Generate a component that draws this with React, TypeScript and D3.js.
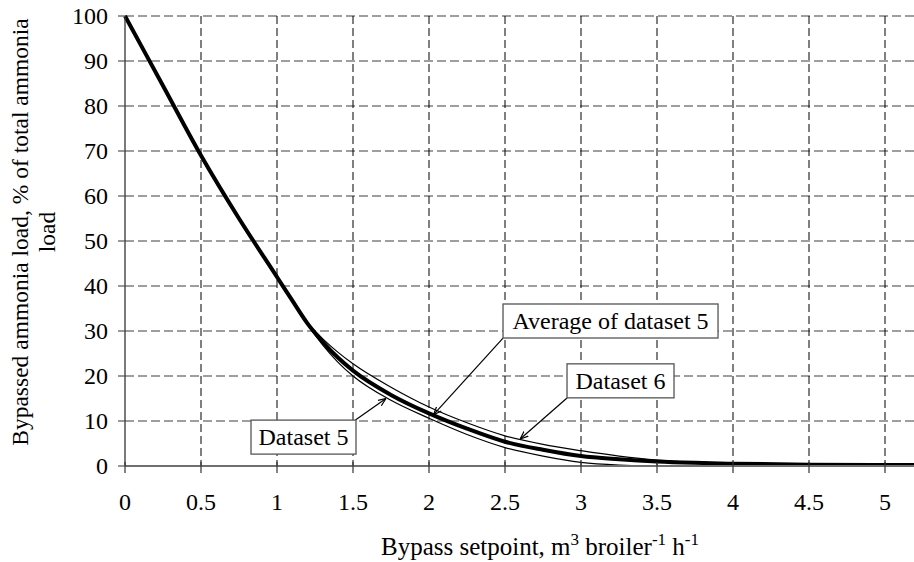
import React from "react";
import * as d3 from "d3";

const xTicks = [0, 0.5, 1, 1.5, 2, 2.5, 3, 3.5, 4, 4.5, 5];
const xTickLabels = ["0", "0.5", "1", "1.5", "2", "2.5", "3", "3.5", "4", "4.5", "5"];
const yTicks = [0, 10, 20, 30, 40, 50, 60, 70, 80, 90, 100];

const avgX = [0, 0.25, 0.5, 0.75, 1, 1.1, 1.2, 1.3, 1.4, 1.5, 1.75, 2, 2.25, 2.5, 2.75, 3, 3.25, 3.5, 3.75, 4, 4.5, 5.2];
const avgY = [100, 84.5, 69, 55, 42, 36.8, 31.7, 27.6, 24.1, 21.2, 15.8, 11.7, 8.3, 5.4, 3.6, 2.2, 1.5, 1.0, 0.7, 0.5, 0.3, 0.2];

const ds5X = [0, 0.25, 0.5, 0.75, 1, 1.1, 1.2, 1.3, 1.4, 1.5, 1.75, 2, 2.25, 2.5, 2.75, 3, 3.25, 3.5, 4, 5.2];
const ds5Y = [100, 84.5, 69, 55, 42, 36.8, 31.5, 26.9, 23.1, 20, 14.6, 10.6, 7, 4.1, 2.2, 0.8, 0.2, 0, 0, 0];

const ds6X = [0, 0.25, 0.5, 0.75, 1, 1.1, 1.2, 1.3, 1.4, 1.5, 1.75, 2, 2.25, 2.5, 2.75, 3, 3.25, 3.5, 3.75, 4, 4.5, 5.2];
const ds6Y = [100, 84.5, 69, 55, 42, 36.8, 31.9, 28.3, 25.3, 22.7, 17.5, 13.1, 9.6, 6.7, 4.8, 3.4, 2.2, 1.3, 0.8, 0.5, 0.3, 0.2];

// annotations: label, box left/top (data), arrow start (data), arrow tip (data)
const annLabels = ["Average of dataset 5", "Dataset 6", "Dataset 5"];
const annBoxX = [2.487, 2.908, 0.829];
const annBoxY = [36, 22.7, 10.2];
const annFromX = [2.487, 2.908, 1.516];
const annFromY = [28.4, 15.1, 10.2];
const annToX = [2.03, 2.6, 1.717];
const annToY = [11.4, 6.0, 15.0];

const FONT = "'Liberation Serif', 'Times New Roman', serif";

export default function App() {
  const W = 914;
  const H = 562;
  const x = d3.scaleLinear().domain([0, 5.2]).range([125, 915.4]);
  const y = d3.scaleLinear().domain([0, 100]).range([466, 16]);

  const line = d3
    .line<[number, number]>()
    .x((d) => x(d[0]))
    .y((d) => y(d[1]))
    .curve(d3.curveMonotoneX);

  const pts = (xs: number[], ys: number[]) => xs.map((v, i) => [v, ys[i]] as [number, number]);

  const boxW = [215, 107, 105];
  const boxH = 34;
  const ts = { fontFamily: FONT };

  return (
    <svg width={W} height={H} style={{ position: "absolute", left: 0, top: 0, background: "#fff" }}>
      <defs>
        <marker id="arr" viewBox="0 0 10 10" refX="10" refY="5" markerWidth="8" markerHeight="8" orient="auto-start-reverse" markerUnits="userSpaceOnUse">
          <path d="M0,1 L10,5 L0,9" fill="none" stroke="#000" strokeWidth={1.5} />
        </marker>
      </defs>
      <rect x={0} y={0} width={W} height={H} fill="#fff" />
      {yTicks.filter((t) => t > 0).map((t) => (
        <line key={"h" + t} x1={x(0)} x2={W} y1={y(t)} y2={y(t)} stroke="#7f7f7f" strokeWidth={1.3} strokeDasharray="9,4" />
      ))}
      {xTicks.filter((t) => t > 0).map((t) => (
        <line key={"v" + t} x1={x(t)} x2={x(t)} y1={y(100)} y2={y(0)} stroke="#000" strokeWidth={1} strokeDasharray="8,4" />
      ))}
      <path d={line(pts(ds5X, ds5Y)) || ""} fill="none" stroke="#000" strokeWidth={1.2} />
      <path d={line(pts(ds6X, ds6Y)) || ""} fill="none" stroke="#000" strokeWidth={1.2} />
      <path d={line(pts(avgX, avgY)) || ""} fill="none" stroke="#000" strokeWidth={4} />
      <line x1={x(0)} x2={W} y1={y(0)} y2={y(0)} stroke="#6f6f6f" strokeWidth={2} />
      <line x1={x(0)} x2={x(0)} y1={y(0)} y2={y(100)} stroke="#333" strokeWidth={1.3} />
      {xTicks.map((t) => (
        <line key={"xt" + t} x1={x(t)} x2={x(t)} y1={y(0) - 4} y2={y(0) + 7} stroke="#333" strokeWidth={1.2} />
      ))}
      {yTicks.map((t) => (
        <line key={"yt" + t} x1={x(0) - 7} x2={x(0)} y1={y(t)} y2={y(t)} stroke="#555" strokeWidth={1.2} />
      ))}
      {xTicks.map((t, i) => (
        <text key={"xl" + t} x={x(t)} y={510} textAnchor="middle" fontSize={24} fill="#000" style={ts}>
          {xTickLabels[i]}
        </text>
      ))}
      {yTicks.map((t) => (
        <text key={"yl" + t} x={108} y={y(t)} dy="0.35em" textAnchor="end" fontSize={24} fill="#000" style={ts}>
          {t}
        </text>
      ))}
      <text x={540} y={555} textAnchor="middle" fontSize={25} fill="#000" style={ts}>
        Bypass setpoint, m<tspan dy={-10} fontSize={17}>3</tspan>
        <tspan dy={10}> broiler</tspan>
        <tspan dy={-10} fontSize={17}>-1</tspan>
        <tspan dy={10}> h</tspan>
        <tspan dy={-10} fontSize={17}>-1</tspan>
      </text>
      <g transform="translate(28,232) rotate(-90)">
        <text x={0} y={0} textAnchor="middle" fontSize={23.5} fill="#000" style={ts}>
          Bypassed ammonia load, % of total ammonia
        </text>
        <text x={0} y={27} textAnchor="middle" fontSize={23.5} fill="#000" style={ts}>
          load
        </text>
      </g>
      {annLabels.map((lab, i) => (
        <g key={"a" + i}>
          <line x1={x(annFromX[i])} y1={y(annFromY[i])} x2={x(annToX[i])} y2={y(annToY[i])} stroke="#000" strokeWidth={1.2} markerEnd="url(#arr)" />
          <rect x={x(annBoxX[i])} y={y(annBoxY[i])} width={boxW[i]} height={boxH} fill="#fff" stroke="#555" strokeWidth={1.3} />
          <text x={x(annBoxX[i]) + boxW[i] / 2} y={y(annBoxY[i]) + 25} textAnchor="middle" fontSize={24} fill="#000" style={ts}>
            {lab}
          </text>
        </g>
      ))}
    </svg>
  );
}
